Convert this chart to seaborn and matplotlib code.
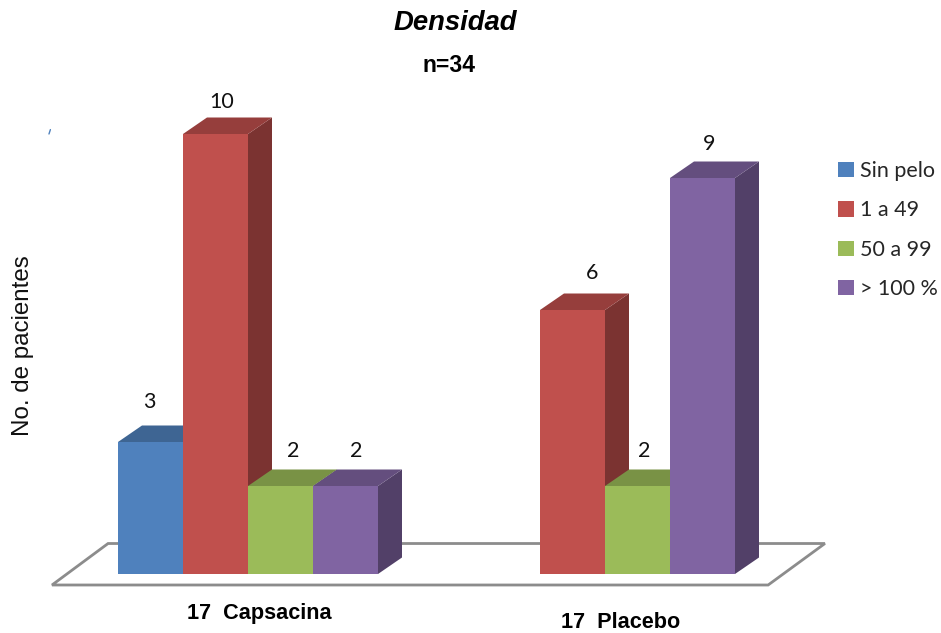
import numpy as np
import pandas as pd
import matplotlib
matplotlib.use("Agg")
import matplotlib.pyplot as plt
from matplotlib.colors import to_rgb
from matplotlib.patches import Polygon
import seaborn as sns

# Patient counts per density class
groups = ["17  Capsacina", "17  Placebo"]
classes = ["Sin pelo", "1 a 49", "50 a 99", "> 100 %"]
capsacina = [3, 10, 2, 2]
placebo = [np.nan, 6, 2, 9]
palette = ["#4F81BD", "#C0504D", "#9BBB59", "#8064A2"]

# Hand placement of the value labels relative to each bar's top centre (pixels)
label_nudges = {
    (0, 0): (-1, 40), (0, 1): (6, 32), (0, 2): (13, 35), (0, 3): (11, 35),
    (1, 1): (20, 37), (1, 2): (7, 35), (1, 3): (7, 34),
}

W, H = 941, 633
PX_PER_GROUP = 357.0
PX_PER_UNIT = 44.0
DEPTH_X = 24 / PX_PER_GROUP
DEPTH_Y = 16.5 / PX_PER_UNIT

sns.set_theme(style="white")
plt.rcParams["font.family"] = ["Liberation Sans", "DejaVu Sans"]

df = pd.DataFrame({
    "grupo": np.repeat(groups, len(classes)),
    "clase": classes * len(groups),
    "pacientes": capsacina + placebo,
})

fig = plt.figure(figsize=(W / 100, H / 100), dpi=100)
ax = fig.add_axes([0, 0, 1, 1])
sns.barplot(
    data=df, x="grupo", y="pacientes", hue="clase", order=groups,
    hue_order=classes, palette=palette, saturation=1,
    width=4 * 65 / PX_PER_GROUP, gap=0, ax=ax, linewidth=0, errorbar=None,
)
ax.set_xlim(-248 / PX_PER_GROUP, (W - 248) / PX_PER_GROUP)
ax.set_ylim(-(H - 574) / PX_PER_UNIT, 574 / PX_PER_UNIT)


def shade(colour, factor):
    return tuple(c * factor for c in to_rgb(colour))


# Floor plate under the bars
ax.add_patch(Polygon(
    [(-0.549, -0.25), (1.457, -0.25), (1.616, 0.693), (-0.392, 0.693)],
    closed=True, facecolor="white", edgecolor="#8c8c8c", linewidth=2.0,
    zorder=1,
))

# Extrude every bar with a shaded top and side face, left to right
faces = []
for class_idx, container in enumerate(ax.containers):
    for bar in container:
        if np.isfinite(bar.get_height()) and bar.get_height() > 0:
            faces.append((bar.get_x(), class_idx, bar))
faces.sort(key=lambda item: item[0])

for order, (_, class_idx, bar) in enumerate(faces):
    x0, x1 = bar.get_x(), bar.get_x() + bar.get_width()
    top = bar.get_height()
    colour = palette[class_idx]
    z = 3 + order
    ax.add_patch(Polygon(
        [(x1, 0), (x1 + DEPTH_X, DEPTH_Y), (x1 + DEPTH_X, top + DEPTH_Y), (x1, top)],
        closed=True, facecolor=shade(colour, 0.64), linewidth=0, zorder=z,
    ))
    ax.add_patch(Polygon(
        [(x0, top), (x0 + DEPTH_X, top + DEPTH_Y), (x1 + DEPTH_X, top + DEPTH_Y), (x1, top)],
        closed=True, facecolor=shade(colour, 0.78), linewidth=0, zorder=z,
    ))
    bar.set_zorder(z + 0.5)

    group_idx = int(round((x0 + x1) / 2))
    dx, dy = label_nudges[(group_idx, class_idx)]
    ax.annotate(
        f"{top:.0f}", xy=((x0 + x1) / 2, top), xytext=(dx * 0.72, dy * 0.72),
        textcoords="offset points", ha="center", va="center",
        fontsize=15.5, family="Lato", color="#111111", zorder=50,
    )

ax.set_axis_off()
sns.move_legend(
    ax, loc="upper left", bbox_to_anchor=(838 / W, 1 - 161 / H), frameon=False,
    title=None, prop={"family": "Lato", "size": 15.5},
    handlelength=0.72, handleheight=0.72, handletextpad=0.3, labelspacing=0.9,
    borderpad=0, borderaxespad=0,
)


def put(x, y, text, **kw):
    fig.text(x / W, 1 - y / H, text, ha="center", va="center", **kw)


put(455, 23, "Densidad", fontsize=19.8, fontweight="bold", fontstyle="italic", color="black")
put(449, 65, "n=34", fontsize=16.5, fontweight="bold", color="black")
put(23, 346, "No. de pacientes", fontsize=17.4, rotation=90, color="#111111")
put(259, 614, groups[0], fontsize=15.6, fontweight="bold", color="black")
put(621, 622, groups[1], fontsize=15.6, fontweight="bold", color="black")

# Small stray axis mark at the upper left of the plot area
ax.plot([-0.5575, -0.5535], [10.0, 10.1], color="#4F81BD", lw=1, zorder=2)

fig.savefig("out.png", dpi=100)
